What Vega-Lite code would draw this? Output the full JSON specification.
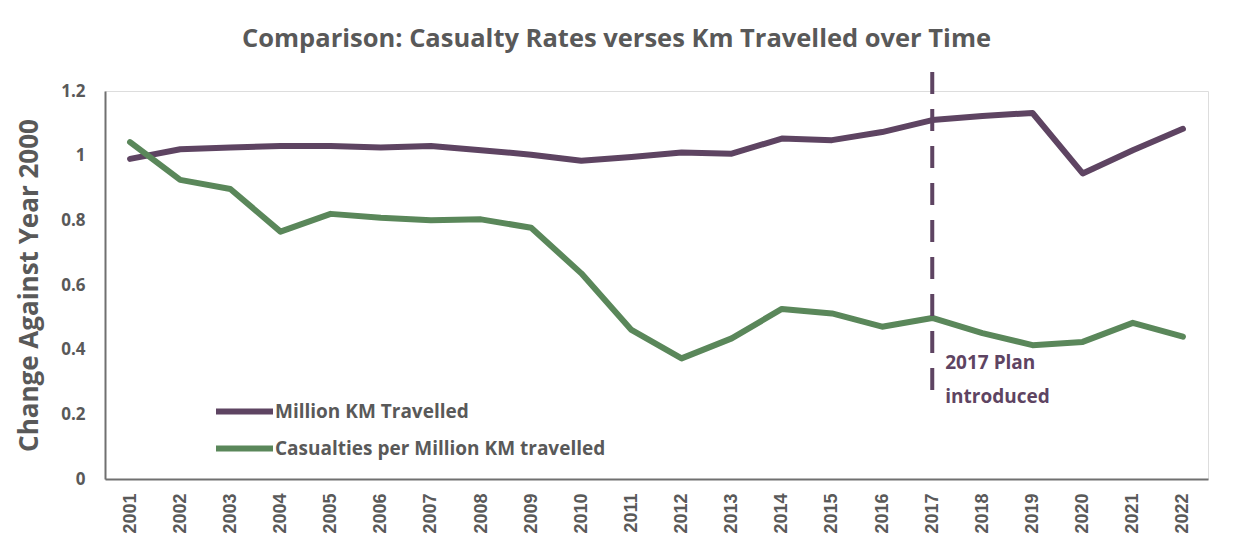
{
  "$schema": "https://vega.github.io/schema/vega-lite/v6.json",
  "width": 1103,
  "height": 388,
  "autosize": {"type": "none"},
  "padding": {"left": 105, "top": 91, "right": 27, "bottom": 76},
  "background": "white",
  "title": {
    "text": "Comparison: Casualty Rates verses Km Travelled over Time",
    "frame": "group",
    "anchor": "middle",
    "dx": -40,
    "baseline": "alphabetic",
    "offset": -10,
    "font": "Open Sans",
    "fontSize": 25.5,
    "fontWeight": "bold",
    "color": "#595959"
  },
  "datasets": {
    "series": [
      {"year": "2001", "series": "Million KM Travelled", "value": 0.99},
      {"year": "2002", "series": "Million KM Travelled", "value": 1.02},
      {"year": "2003", "series": "Million KM Travelled", "value": 1.025},
      {"year": "2004", "series": "Million KM Travelled", "value": 1.03},
      {"year": "2005", "series": "Million KM Travelled", "value": 1.03},
      {"year": "2006", "series": "Million KM Travelled", "value": 1.025},
      {"year": "2007", "series": "Million KM Travelled", "value": 1.03},
      {"year": "2008", "series": "Million KM Travelled", "value": 1.017},
      {"year": "2009", "series": "Million KM Travelled", "value": 1.003},
      {"year": "2010", "series": "Million KM Travelled", "value": 0.984},
      {"year": "2011", "series": "Million KM Travelled", "value": 0.996},
      {"year": "2012", "series": "Million KM Travelled", "value": 1.01},
      {"year": "2013", "series": "Million KM Travelled", "value": 1.006},
      {"year": "2014", "series": "Million KM Travelled", "value": 1.053},
      {"year": "2015", "series": "Million KM Travelled", "value": 1.048},
      {"year": "2016", "series": "Million KM Travelled", "value": 1.073},
      {"year": "2017", "series": "Million KM Travelled", "value": 1.11},
      {"year": "2018", "series": "Million KM Travelled", "value": 1.123},
      {"year": "2019", "series": "Million KM Travelled", "value": 1.132},
      {"year": "2020", "series": "Million KM Travelled", "value": 0.945},
      {"year": "2021", "series": "Million KM Travelled", "value": 1.017},
      {"year": "2022", "series": "Million KM Travelled", "value": 1.083},
      {"year": "2001", "series": "Casualties per Million KM travelled", "value": 1.042},
      {"year": "2002", "series": "Casualties per Million KM travelled", "value": 0.925},
      {"year": "2003", "series": "Casualties per Million KM travelled", "value": 0.897},
      {"year": "2004", "series": "Casualties per Million KM travelled", "value": 0.765},
      {"year": "2005", "series": "Casualties per Million KM travelled", "value": 0.82},
      {"year": "2006", "series": "Casualties per Million KM travelled", "value": 0.808},
      {"year": "2007", "series": "Casualties per Million KM travelled", "value": 0.8},
      {"year": "2008", "series": "Casualties per Million KM travelled", "value": 0.803},
      {"year": "2009", "series": "Casualties per Million KM travelled", "value": 0.777},
      {"year": "2010", "series": "Casualties per Million KM travelled", "value": 0.636},
      {"year": "2011", "series": "Casualties per Million KM travelled", "value": 0.461},
      {"year": "2012", "series": "Casualties per Million KM travelled", "value": 0.373},
      {"year": "2013", "series": "Casualties per Million KM travelled", "value": 0.435},
      {"year": "2014", "series": "Casualties per Million KM travelled", "value": 0.526},
      {"year": "2015", "series": "Casualties per Million KM travelled", "value": 0.512},
      {"year": "2016", "series": "Casualties per Million KM travelled", "value": 0.471},
      {"year": "2017", "series": "Casualties per Million KM travelled", "value": 0.498},
      {"year": "2018", "series": "Casualties per Million KM travelled", "value": 0.451},
      {"year": "2019", "series": "Casualties per Million KM travelled", "value": 0.414},
      {"year": "2020", "series": "Casualties per Million KM travelled", "value": 0.424},
      {"year": "2021", "series": "Casualties per Million KM travelled", "value": 0.483},
      {"year": "2022", "series": "Casualties per Million KM travelled", "value": 0.44}
    ],
    "marker": [{"year": "2017", "bottom": 0.275, "top": 1.283}],
    "notes": [
      {"year": "2017", "value": 0.359, "label": "2017 Plan"},
      {"year": "2017", "value": 0.254, "label": "introduced"}
    ]
  },
  "encoding": {
    "x": {
      "field": "year",
      "type": "ordinal",
      "scale": {"type": "point", "padding": 0.5},
      "axis": {
        "title": null,
        "labelAngle": -90,
        "labelFont": "Liberation Sans",
        "labelFontSize": 18,
        "labelFontWeight": "bold",
        "labelColor": "#595959",
        "labelPadding": 14,
        "ticks": false,
        "domainColor": "#707070",
        "domainWidth": 2,
        "grid": false
      }
    }
  },
  "layer": [
    {
      "data": {"name": "series"},
      "mark": {"type": "line", "strokeWidth": 6, "strokeCap": "round", "strokeJoin": "round"},
      "encoding": {
        "y": {
          "field": "value",
          "type": "quantitative",
          "scale": {"domain": [0, 1.2], "nice": false, "zero": true},
          "axis": {
            "title": "Change Against Year 2000",
            "titleFont": "Open Sans",
            "titleFontSize": 26,
            "titleFontWeight": "bold",
            "titleColor": "#595959",
            "titlePadding": 18,
            "values": [0, 0.2, 0.4, 0.6, 0.8, 1, 1.2],
            "format": "~g",
            "labelFont": "Open Sans",
            "labelFontSize": 17,
            "labelFontWeight": "bold",
            "labelColor": "#595959",
            "labelPadding": 20,
            "ticks": false,
            "grid": false,
            "domainColor": "#707070",
            "domainWidth": 2
          }
        },
        "color": {
          "field": "series",
          "type": "nominal",
          "sort": ["Million KM Travelled", "Casualties per Million KM travelled"],
          "scale": {
            "domain": ["Million KM Travelled", "Casualties per Million KM travelled"],
            "range": ["#5e4462", "#5a875a"]
          },
          "legend": {
            "title": null,
            "orient": "none",
            "legendX": 127,
            "legendY": 308,
            "padding": 0,
            "symbolType": "M-3,0H3",
            "symbolSize": 361,
            "symbolStrokeWidth": 6,
            "symbolStrokeCap": "round",
            "labelFont": "Open Sans",
            "labelFontSize": 19,
            "labelFontWeight": "bold",
            "labelColor": "#595959",
            "labelOffset": 18,
            "labelLimit": 500,
            "rowPadding": 12
          }
        }
      }
    },
    {
      "data": {"name": "marker"},
      "mark": {"type": "rule", "strokeWidth": 4, "strokeDash": [22, 15], "color": "#5e4462"},
      "encoding": {
        "y": {"field": "bottom", "type": "quantitative"},
        "y2": {"field": "top"}
      }
    },
    {
      "data": {"name": "notes"},
      "mark": {
        "type": "text",
        "align": "left",
        "baseline": "middle",
        "dx": 13,
        "font": "Open Sans",
        "fontSize": 19,
        "fontWeight": "bold",
        "color": "#5e4462"
      },
      "encoding": {
        "y": {"field": "value", "type": "quantitative"},
        "text": {"field": "label"}
      }
    }
  ]
}
